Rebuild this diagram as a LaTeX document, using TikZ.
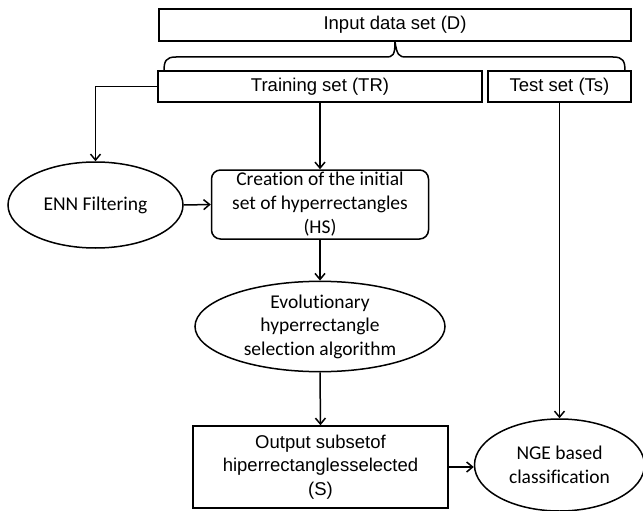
\documentclass[tikz,border=0pt]{standalone}
\usepackage{fontspec}
\setmainfont{Liberation Sans}
\newfontfamily\calfont[Ligatures={NoCommon}]{Carlito}
\usetikzlibrary{shapes.geometric,arrows.meta}
\begin{document}
\begin{tikzpicture}[x=1pt,y=-1pt,line width=1.5pt,
  arialbox/.style={draw,rectangle,inner sep=0pt,font=\fontsize{18.5}{23.5}\selectfont,align=center},
  calell/.style={draw,ellipse,inner sep=0pt,font=\calfont\fontsize{19.5}{23.5}\selectfont,align=center},
  calround/.style={draw,rectangle,rounded corners=9pt,inner sep=0pt,font=\calfont\fontsize{19.5}{24}\selectfont,align=center},
  arr/.style={-{Straight Barb[length=6pt,width=10pt,line width=1.5pt]}}]
\useasboundingbox (0,0) rectangle (643,511);
\node[arialbox,minimum width=472,minimum height=32] (input) at (395,25) {Input data set (D)};
\node[arialbox,minimum width=324,minimum height=31] (train) at (320,86.5) {Training set (TR)};
\node[arialbox,minimum width=143,minimum height=31] (test) at (559.5,86.5) {Test set (Ts)};
\node[calell,minimum width=175,minimum height=86] (enn) at (95.5,205) {ENN Filtering};
\node[calround,minimum width=217,minimum height=69] (create) at (320,204.5) {Creation of the initial\\set of hyperrectangles\\(HS)};
\node[calell,minimum width=250,minimum height=87] (evo) at (320,326.5) {Evolutionary\\hyperrectangle\\selection algorithm};
\node[arialbox,minimum width=255,minimum height=82] (out) at (320.5,467) {Output subsetof\\hiperrectanglesselected\\(S)};
\node[calell,minimum width=170,minimum height=92] (nge) at (559.5,465) {NGE based\\classification};
\coordinate (bl) at (164,71);
\coordinate (br) at (625,71);
\coordinate (btip) at (input.south);
\draw (bl) .. controls (164,61) and (166,57) .. (176,57) -- (386,57)
  .. controls (393,57) and (395,55) .. (btip)
  .. controls (397,55) and (399,57) .. (406,57) -- (613,57)
  .. controls (623,57) and (625,61) .. (br);
\draw[arr] (train.west) -| (enn.north);
\draw[arr] (train.south) -- (create.north);
\draw[arr] (enn.east) -- (create.west);
\draw[arr] (create.south) -- (evo.north);
\draw[arr] (evo.south) -- (out.north);
\draw[arr] (test.south) -- (nge.north);
\draw[arr] (out.east) -- (out.east -| nge.west);
\end{tikzpicture}
\end{document}
